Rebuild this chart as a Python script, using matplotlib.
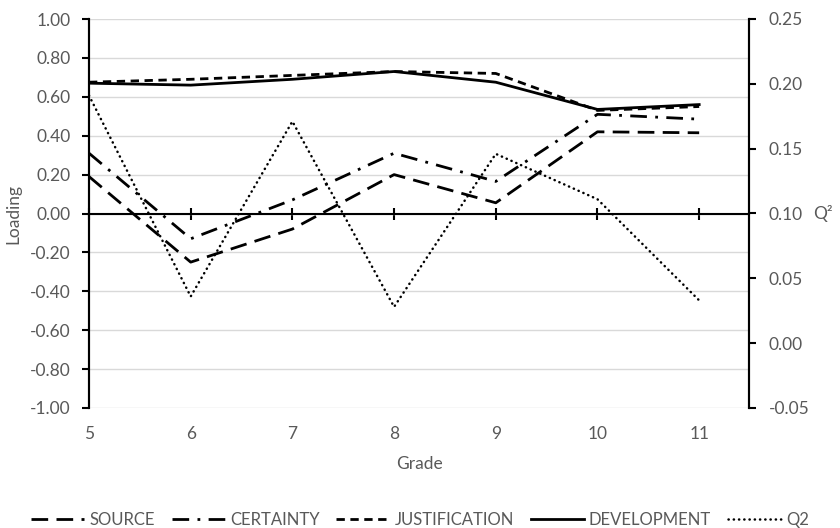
import numpy as np
import matplotlib
matplotlib.use("Agg")
import matplotlib.pyplot as plt

plt.rcParams["font.family"] = ["Lato", "DejaVu Sans"]

grades = [5, 6, 7, 8, 9, 10, 11]
source = [0.19, -0.25, -0.08, 0.20, 0.055, 0.42, 0.415]
certainty = [0.31, -0.13, 0.07, 0.31, 0.165, 0.51, 0.485]
justification = [0.675, 0.69, 0.71, 0.73, 0.72, 0.53, 0.55]
development = [0.67, 0.66, 0.69, 0.73, 0.675, 0.535, 0.56]
q2 = [0.191, 0.036, 0.171, 0.028, 0.146, 0.111, 0.033]

left_ticks = np.arange(-1.0, 1.01, 0.2)
right_ticks = np.arange(-0.05, 0.251, 0.05)

text_color = "#595959"
fs = 12.5

fig = plt.figure(figsize=(8.4, 5.28), dpi=100)
ax = fig.add_axes([89 / 840, 1 - 408 / 528, (749 - 89) / 840, (408 - 19) / 528])
ax2 = ax.twinx()

lw = 2.0
(h1,) = ax.plot(grades, source, color="black", lw=lw, dashes=(6, 3), label="SOURCE")
(h2,) = ax.plot(grades, certainty, color="black", lw=lw, dashes=(6, 3, 1, 3), label="CERTAINTY")
(h3,) = ax.plot(grades, justification, color="black", lw=lw, dashes=(3, 2), label="JUSTIFICATION")
(h4,) = ax.plot(grades, development, color="black", lw=lw, label="DEVELOPMENT")
(h5,) = ax2.plot(grades, q2, color="black", lw=1.8, dashes=(0.1, 2.0),
                 dash_capstyle="round", label="Q2")

ax.set_xlim(5, 11.49)
ax.set_ylim(-1.0, 1.0)
ax2.set_ylim(-0.05, 0.25)

ax.set_yticks(left_ticks)
ax.set_yticklabels([f"{v:.2f}" if abs(v) > 1e-9 else "0.00" for v in left_ticks])
ax2.set_yticks(right_ticks)
ax2.set_yticklabels([f"{v:.2f}" if abs(v) > 1e-9 else "0.00" for v in right_ticks])

ax.grid(axis="y", color="#d9d9d9", lw=1.0)
ax.set_axisbelow(True)

for a in (ax, ax2):
    a.spines["top"].set_visible(False)
    a.spines["left"].set_linewidth(1.5)
    a.spines["right"].set_linewidth(1.5)

# category axis crosses at zero
ax.spines["bottom"].set_position(("data", 0))
ax.spines["bottom"].set_linewidth(1.5)
ax2.spines["bottom"].set_visible(False)
ax.set_xticks(grades)
ax.tick_params(axis="x", direction="inout", length=9, width=1.5, labelbottom=False)
ax.tick_params(axis="y", direction="out", length=5, width=1.5, colors="black",
               labelcolor=text_color, labelsize=fs, pad=8)
ax2.tick_params(axis="y", direction="out", length=5, width=1.5, colors="black",
                labelcolor=text_color, labelsize=fs, pad=9)

# grade labels sit at the bottom of the plot
sec = ax.secondary_xaxis("bottom")
sec.set_xticks(grades)
sec.set_xticklabels([str(g) for g in grades])
sec.spines["bottom"].set_visible(False)
sec.tick_params(length=0, labelcolor=text_color, labelsize=fs, pad=13)
sec.set_xlabel("Grade", color=text_color, fontsize=fs, labelpad=10)

ax.set_ylabel("Loading", color=text_color, fontsize=fs, labelpad=6)
ax2.set_ylabel("Q²", color=text_color, fontsize=fs, rotation=0, va="center", labelpad=10)

fig.legend(handles=[h1, h2, h3, h4, h5], loc="center", bbox_to_anchor=(0.5, 1 - 520 / 528),
           ncol=5, frameon=False, fontsize=12, handlelength=3.2, handletextpad=0.3,
           columnspacing=1.0, labelcolor=text_color)

fig.savefig("out.png", dpi=100)
